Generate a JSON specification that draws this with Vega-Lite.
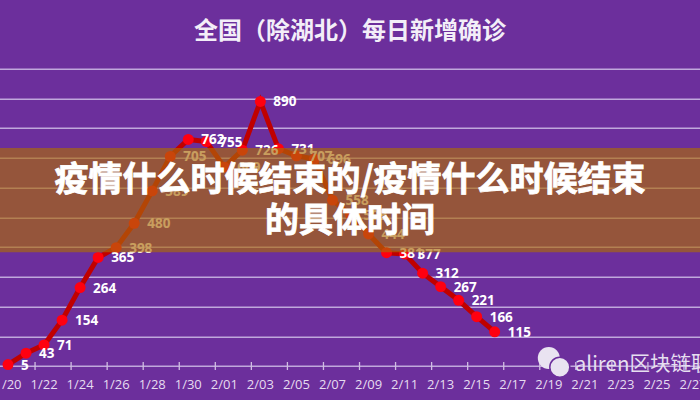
{"$schema":"https://vega.github.io/schema/vega-lite/v6.json","width":700,"height":297.3,"autosize":{"type":"none"},"padding":{"top":68.7,"left":0,"right":0,"bottom":34},"background":"#6c2f9c","title":{"text":"全国（除湖北）每日新增确诊","font":"Noto Sans CJK SC","fontSize":24,"fontWeight":"bold","color":"#f3eef8","anchor":"middle","offset":25},"config":{"view":{"stroke":null},"axisX":{"ticks":false,"domain":false,"grid":false},"axisY":{"values":[0,100,200,300,400,500,600,700,800,900,1000],"grid":true,"gridColor":"#c0a8dc","gridWidth":1.5,"domain":false,"ticks":false,"labels":false,"title":null}},"datasets":{"cases":[{"d":"1/20","v":5},{"d":"1/21","v":43},{"d":"1/22","v":71},{"d":"1/23","v":154},{"d":"1/24","v":264},{"d":"1/25","v":365},{"d":"1/26","v":398},{"d":"1/27","v":480},{"d":"1/28","v":589},{"d":"1/29","v":705},{"d":"1/30","v":762},{"d":"1/31","v":755},{"d":"2/01","v":669},{"d":"2/02","v":726},{"d":"2/03","v":890},{"d":"2/04","v":731},{"d":"2/05","v":707},{"d":"2/06","v":696},{"d":"2/07","v":558},{"d":"2/08","v":509},{"d":"2/09","v":444},{"d":"2/10","v":381},{"d":"2/11","v":377},{"d":"2/12","v":312},{"d":"2/13","v":267},{"d":"2/14","v":221},{"d":"2/15","v":166},{"d":"2/16","v":115}]},"layer":[{"data":{"name":"cases"},"mark":{"type":"line","color":"#c00000","strokeWidth":5},"encoding":{"x":{"field":"d","type":"nominal","title":null,"scale":{"type":"band","paddingInner":0,"paddingOuter":0,"range":[-1,702],"domain":["1/20","1/21","1/22","1/23","1/24","1/25","1/26","1/27","1/28","1/29","1/30","1/31","2/01","2/02","2/03","2/04","2/05","2/06","2/07","2/08","2/09","2/10","2/11","2/12","2/13","2/14","2/15","2/16","2/17","2/18","2/19","2/20","2/21","2/22","2/23","2/24","2/25","2/26","2/27"]},"axis":{"values":["1/20","1/22","1/24","1/26","1/28","1/30","2/01","2/03","2/05","2/07","2/09","2/11","2/13","2/15","2/17","2/19","2/21","2/23","2/25","2/27"],"labelAngle":0,"labelAlign":"center","labelBaseline":"middle","labelPadding":18,"labelFont":"Open Sans","labelFontSize":13,"labelColor":"#e6dcf0","labelOverlap":false,"labelBound":false,"labelFlush":false}},"y":{"field":"v","type":"quantitative","title":null,"scale":{"domain":[0,1000],"nice":false}}}},{"data":{"values":[{"d":"1/22","v":0},{"d":"1/24","v":0},{"d":"1/26","v":0},{"d":"1/28","v":0},{"d":"1/30","v":0},{"d":"2/01","v":0},{"d":"2/03","v":0},{"d":"2/05","v":0},{"d":"2/07","v":0},{"d":"2/09","v":0},{"d":"2/11","v":0},{"d":"2/13","v":0},{"d":"2/15","v":0},{"d":"2/17","v":0},{"d":"2/19","v":0},{"d":"2/21","v":0},{"d":"2/23","v":0},{"d":"2/25","v":0},{"d":"2/27","v":0}]},"mark":{"type":"tick","orient":"vertical","size":8,"thickness":1.3,"color":"#d0bde2","opacity":1},"encoding":{"x":{"field":"d","type":"nominal","bandPosition":0},"y":{"field":"v","type":"quantitative"}}},{"data":{"name":"cases"},"mark":{"type":"point","filled":true,"opacity":1,"size":120,"color":"#ff0010"},"encoding":{"x":{"field":"d","type":"nominal"},"y":{"field":"v","type":"quantitative"}}},{"data":{"name":"cases"},"mark":{"type":"text","align":"left","baseline":"middle","dx":13,"dy":1,"font":"Open Sans","fontWeight":"bold","fontSize":13.5,"color":"#ffffff"},"encoding":{"x":{"field":"d","type":"nominal"},"y":{"field":"v","type":"quantitative"},"text":{"field":"v","type":"quantitative"}}},{"data":{"values":[{"d":"2/19","v":27}]},"mark":{"type":"point","shape":"circle","filled":true,"opacity":1,"size":484,"color":"#e9e3f1"},"encoding":{"x":{"field":"d","type":"nominal"},"y":{"field":"v","type":"quantitative"}}},{"data":{"values":[{"d":"2/20","v":-4}]},"mark":{"type":"point","shape":"circle","filled":true,"opacity":1,"size":400,"color":"#e9e3f1","stroke":"#6c2f9c","strokeWidth":1.5,"xOffset":-7},"encoding":{"x":{"field":"d","type":"nominal"},"y":{"field":"v","type":"quantitative"}}},{"data":{"values":[{"d":"2/20","v":4,"t":"aliren区块链联"}]},"mark":{"type":"text","align":"left","baseline":"middle","dx":8,"font":"Noto Sans CJK SC","fontSize":20.5,"color":"#e6dff0"},"encoding":{"x":{"field":"d","type":"nominal"},"y":{"field":"v","type":"quantitative"},"text":{"field":"t"}}},{"data":{"values":[{"lo":383,"hi":733}]},"mark":{"type":"rect","color":"#ac6a08","opacity":0.65},"encoding":{"y":{"field":"lo","type":"quantitative"},"y2":{"field":"hi"}}},{"data":{"values":[{"v":622,"t":"疫情什么时候结束的/疫情什么时候结束"},{"v":484,"t":"的具体时间"}]},"mark":{"type":"text","align":"center","baseline":"middle","font":"Noto Sans CJK SC","fontWeight":"bold","fontSize":34,"color":"#ffffff","stroke":"#ffffff","strokeWidth":0.8},"encoding":{"y":{"field":"v","type":"quantitative"},"text":{"field":"t"}}}]}
